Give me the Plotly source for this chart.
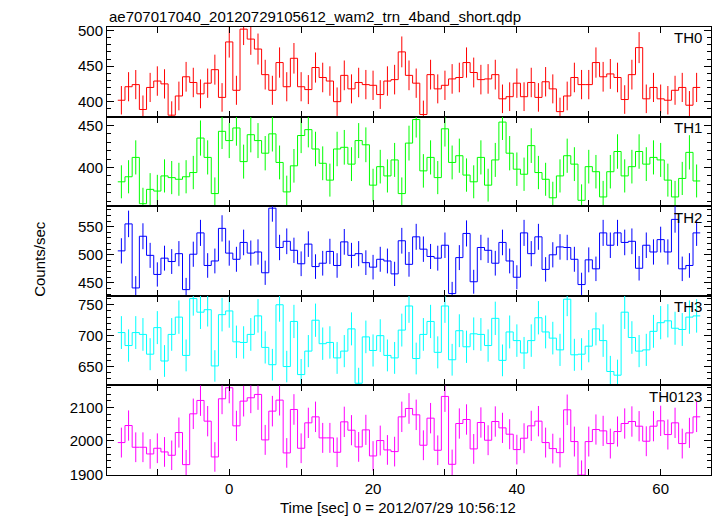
import plotly.graph_objects as go
from plotly.subplots import make_subplots

time = list(range(-15, 66))

th0 = [402, 421, 424, 389, 420, 429, 425, 381, 408, 435, 427, 411, 426, 445, 406, 484, 416, 502, 488, 474,
       438, 416, 455, 421, 461, 421, 417, 448, 434, 429, 400, 437, 418, 427, 424, 423, 410, 429,
       431, 470, 437, 426, 382, 438, 418, 423, 432, 434, 455, 441, 431, 432, 438, 404, 407, 426, 407, 427,
       406, 428, 418, 386, 408, 434, 424, 424, 455, 435, 439, 434, 403, 438, 476, 404, 420, 404, 402, 416,
       420, 395, 420]
th0_err = [20.0, 20.5, 20.5, 19.7, 20.5, 20.7, 20.6, 19.5, 20.2, 20.9, 20.7, 20.3, 20.6, 21.1, 20.1, 22.0, 20.4,
           22.4, 22.1, 21.8, 20.9, 20.4, 21.3, 20.5, 21.5, 20.5, 20.4, 21.2, 20.8, 20.7, 20.0, 20.9, 20.4, 20.7,
           20.6, 20.6, 20.2, 20.7,
           20.8, 21.7, 20.9, 20.6, 19.5, 20.9, 20.4, 20.6, 20.8, 20.8, 21.3, 21.0, 20.8, 20.8, 20.9, 20.1, 20.2,
           20.6, 20.2, 20.7, 20.1, 20.7, 20.4, 19.6, 20.2, 20.8, 20.6, 20.6, 21.3, 20.9, 21.0, 20.8, 20.1, 20.9,
           21.8, 20.1, 20.5, 20.1, 20.0, 20.4, 20.5, 19.9, 20.5]

th1 = [383, 389, 412, 357, 374, 372, 390, 388, 386, 389, 394, 435, 412, 369, 443, 432, 447, 407, 439, 432,
       417, 440, 406, 371, 402, 438, 445, 422, 405, 385, 422, 424, 404, 432, 427, 379, 401, 390,
       409, 369, 429, 457, 396, 412, 388, 446, 406, 414, 391, 383, 412, 379, 409, 454, 417, 398, 392, 426,
       394, 386, 364, 390, 414, 404, 361, 401, 395, 365, 395, 419, 390, 401, 419, 404, 412, 409, 385, 365,
       387, 418, 384]
th1_err = [19.6, 19.7, 20.3, 18.9, 19.3, 19.3, 19.7, 19.7, 19.6, 19.7, 19.8, 20.9, 20.3, 19.2, 21.0, 20.8, 21.1,
           20.2, 21.0, 20.8, 20.4, 21.0, 20.1, 19.3, 20.0, 20.9, 21.1, 20.5, 20.1, 19.6, 20.5, 20.6, 20.1, 20.8,
           20.7, 19.5, 20.0, 19.7,
           20.2, 19.2, 20.7, 21.4, 19.9, 20.3, 19.7, 21.1, 20.1, 20.3, 19.8, 19.6, 20.3, 19.5, 20.2, 21.3, 20.4,
           19.9, 19.8, 20.6, 19.8, 19.6, 19.1, 19.7, 20.3, 20.1, 19.0, 20.0, 19.9, 19.1, 19.9, 20.5, 19.7, 20.0,
           20.5, 20.1, 20.3, 20.2, 19.6, 19.1, 19.7, 20.4, 19.6]

th2 = [507, 555, 441, 533, 499, 465, 494, 488, 502, 438, 501, 539, 481, 489, 547, 503, 492, 522, 503, 505,
       468, 583, 513, 524, 508, 484, 519, 479, 485, 506, 481, 523, 499, 502, 486, 478, 492, 489,
       466, 525, 483, 532, 510, 497, 494, 517, 431, 495, 538, 452, 513, 508, 485, 522, 489, 460, 539, 502,
       532, 474, 500, 514, 513, 492, 447, 491, 475, 539, 517, 539, 522, 524, 476, 517, 505, 527, 505, 563,
       475, 481, 539]
th2_err = [22.5, 23.6, 21.0, 23.1, 22.3, 21.6, 22.2, 22.1, 22.4, 20.9, 22.4, 23.2, 21.9, 22.1, 23.4, 22.4, 22.2,
           22.8, 22.4, 22.5, 21.6, 24.1, 22.6, 22.9, 22.5, 22.0, 22.8, 21.9, 22.0, 22.5, 21.9, 22.9, 22.3, 22.4,
           22.0, 21.9, 22.2, 22.1,
           21.6, 22.9, 22.0, 23.1, 22.6, 22.3, 22.2, 22.7, 20.8, 22.2, 23.2, 21.3, 22.6, 22.5, 22.0, 22.8, 22.1,
           21.4, 23.2, 22.4, 23.1, 21.8, 22.4, 22.7, 22.6, 22.2, 21.1, 22.2, 21.8, 23.2, 22.7, 23.2, 22.8, 22.9,
           21.8, 22.7, 22.5, 23.0, 22.5, 23.7, 21.8, 21.9, 23.2]

th3 = [705, 684, 705, 702, 670, 713, 659, 702, 730, 668, 760, 738, 742, 651, 734, 740, 690, 689, 702, 732,
       681, 653, 750, 650, 723, 637, 675, 725, 687, 689, 664, 675, 711, 623, 698, 676, 700, 668,
       664, 709, 748, 663, 702, 723, 673, 748, 661, 708, 682, 703, 702, 684, 728, 660, 706, 692, 672, 692,
       729, 706, 696, 677, 759, 669, 670, 683, 711, 692, 642, 636, 738, 697, 675, 677, 707, 721, 724, 712,
       710, 730, 732]
th3_err = [26.6, 26.2, 26.6, 26.5, 25.9, 26.7, 25.7, 26.5, 27.0, 25.8, 27.6, 27.2, 27.2, 25.5, 27.1, 27.2, 26.3,
           26.2, 26.5, 27.1, 26.1, 25.6, 27.4, 25.5, 26.9, 25.2, 26.0, 26.9, 26.2, 26.2, 25.8, 26.0, 26.7, 25.0,
           26.4, 26.0, 26.5, 25.8,
           25.8, 26.6, 27.3, 25.7, 26.5, 26.9, 25.9, 27.3, 25.7, 26.6, 26.1, 26.5, 26.5, 26.2, 27.0, 25.7, 26.6,
           26.3, 25.9, 26.3, 27.0, 26.6, 26.4, 26.0, 27.5, 25.9, 25.9, 26.1, 26.7, 26.3, 25.3, 25.2, 27.2, 26.4,
           26.0, 26.0, 26.6, 26.9, 26.9, 26.7, 26.6, 27.0, 27.1]

th0123 = [1995, 2046, 1981, 1981, 1961, 1978, 1967, 1957, 2025, 1929, 2081, 2121, 2059, 1952, 2126, 2159, 2045,
          2119, 2129, 2139, 2003, 2089, 2122, 1964, 2094, 1978, 2054, 2072, 2009, 2009, 1966, 2057, 2032, 1982,
          2033, 1955, 2001, 1973,
          1968, 2072, 2097, 2078, 1987, 2068, 1972, 2133, 1930, 2052, 2064, 1976, 2055, 2002, 2058, 2039, 2020,
          1974, 2008, 2045, 2059, 1995, 1977, 1965, 2093, 1998, 1898, 1998, 2034, 2030, 1992, 2028, 2052, 2058,
          2044, 1999, 2044, 2060, 2019, 2054, 1992, 2024, 2072]
th0123_err = [44.7, 45.2, 44.5, 44.5, 44.3, 44.5, 44.4, 44.2, 45.0, 43.9, 45.6, 46.1, 45.4, 44.2, 46.1, 46.5, 45.2,
              46.0, 46.1, 46.2, 44.8, 45.7, 46.1, 44.3, 45.8, 44.5, 45.3, 45.5, 44.8, 44.8, 44.3, 45.4, 45.1, 44.5,
              45.1, 44.2, 44.7, 44.4,
              44.4, 45.5, 45.8, 45.6, 44.6, 45.5, 44.4, 46.2, 43.9, 45.3, 45.4, 44.5, 45.3, 44.7, 45.4, 45.2, 44.9,
              44.4, 44.8, 45.2, 45.4, 44.7, 44.5, 44.3, 45.7, 44.7, 43.6, 44.7, 45.1, 45.1, 44.6, 45.0, 45.3, 45.4,
              45.2, 44.7, 45.2, 45.4, 44.9, 45.3, 44.6, 45.0, 45.5]

band_names = ["TH0", "TH1", "TH2", "TH3", "TH0123"]
band_values = [th0, th1, th2, th3, th0123]
band_errors = [th0_err, th1_err, th2_err, th3_err, th0123_err]
band_colors = ["#ff0000", "#00ff00", "#0000ff", "#00ffff", "#ff00ff"]
y_ranges = [[379, 505], [354, 460.5], [427, 586.5], [619.5, 764.5], [1898, 2166]]
y_major = [[400, 450, 500], [400, 450], [450, 500, 550], [650, 700, 750], [1900, 2000, 2100]]
y_minor = [10, 10, 10, 10, 20]

x_tickvals = [-10, 0, 10, 20, 30, 40, 50, 60]
x_ticktext = ["", "0", "", "20", "", "40", "", "60"]

title_text = "ae707017040_20120729105612_wam2_trn_4band_short.qdp"
x_title = "Time [sec] 0 = 2012/07/29 10:56:12"
y_title = "Counts/sec"

FONT = "Liberation Sans, Arial, Helvetica, sans-serif"

fig = make_subplots(rows=5, cols=1, shared_xaxes=True, vertical_spacing=0)

for i, (name, vals, errs, col) in enumerate(zip(band_names, band_values, band_errors, band_colors)):
    r = i + 1
    edges = [t - 0.5 for t in time] + [time[-1] + 0.5]
    ystep = list(vals) + [vals[-1]]
    fig.add_trace(go.Scatter(x=edges, y=ystep, mode="lines", line=dict(color=col, width=1, shape="hv"),
                             hoverinfo="skip", showlegend=False), row=r, col=1)
    fig.add_trace(go.Scatter(x=time, y=vals, mode="markers", marker=dict(size=1, color=col, opacity=0),
                             error_y=dict(type="data", array=errs, visible=True, color=col, thickness=1, width=0),
                             showlegend=False), row=r, col=1)
    fig.update_yaxes(range=y_ranges[i], tickvals=y_major[i], ticks="inside", ticklen=7, tickwidth=1,
                     tickcolor="black", showline=True, linecolor="black", linewidth=1, mirror="ticks",
                     showgrid=False, zeroline=False,
                     minor=dict(dtick=y_minor[i], ticks="inside", ticklen=4, tickcolor="black", showgrid=False),
                     tickfont=dict(size=15, color="black", family=FONT), row=r, col=1)
    fig.update_xaxes(range=[-17, 67], tickvals=x_tickvals, ticktext=x_ticktext, ticks="inside", ticklen=6,
                     tickwidth=1, tickcolor="black", showline=True, linecolor="black", linewidth=1,
                     mirror="ticks", showgrid=False, zeroline=False, showticklabels=(r == 5),
                     tickfont=dict(size=15, color="black", family=FONT), row=r, col=1)
    xref = "x domain" if r == 1 else f"x{r} domain"
    yref = "y domain" if r == 1 else f"y{r} domain"
    fig.add_annotation(text=name, xref=xref, yref=yref, x=0.988, y=0.995, xanchor="right", yanchor="top",
                       showarrow=False, font=dict(size=15, color="black", family=FONT))

fig.add_annotation(text=title_text, xref="paper", yref="paper", x=0.0, y=1.0, xanchor="left",
                   yanchor="bottom", showarrow=False, font=dict(size=15, color="black", family=FONT))
fig.add_annotation(text=x_title, xref="paper", yref="paper", x=0.482, y=-0.05, xanchor="center",
                   yanchor="top", showarrow=False, font=dict(size=15, color="black", family=FONT))
fig.add_annotation(text=y_title, xref="paper", yref="paper", x=-0.113, y=0.482, xanchor="center",
                   yanchor="middle", textangle=-90, showarrow=False,
                   font=dict(size=15, color="black", family=FONT))

fig.update_layout(width=717, height=516, margin=dict(l=107, r=6, t=27, b=41),
                  paper_bgcolor="white", plot_bgcolor="white", showlegend=False,
                  font=dict(family=FONT, color="black", size=15))

fig.write_html("out.html", config={"displayModeBar": False},
               post_script="document.body.style.margin='0px';document.body.style.padding='0px';"
                           "document.body.style.overflow='hidden';")
